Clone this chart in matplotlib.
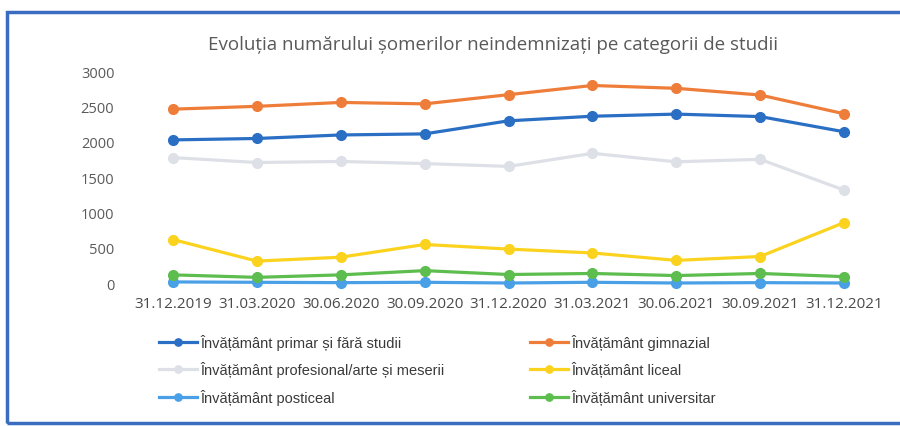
import matplotlib
matplotlib.use("Agg")
import matplotlib.pyplot as plt
from matplotlib.patches import Rectangle

dates = ["31.12.2019", "31.03.2020", "30.06.2020", "30.09.2020", "31.12.2020",
         "31.03.2021", "30.06.2021", "30.09.2021", "31.12.2021"]
primar = [2025, 2045, 2095, 2110, 2295, 2360, 2390, 2355, 2140]
gimnazial = [2460, 2500, 2555, 2535, 2665, 2795, 2755, 2660, 2395]
profesional = [1775, 1705, 1720, 1690, 1650, 1835, 1715, 1750, 1315]
liceal = [615, 310, 365, 545, 480, 425, 320, 375, 855]
posticeal = [15, 10, 5, 10, 0, 10, 0, 5, 0]
universitar = [115, 80, 115, 175, 120, 135, 105, 135, 90]
yticks = [0, 500, 1000, 1500, 2000, 2500, 3000]

series = [
    ("Învățământ primar și fără studii", primar, "#2a6fc4"),
    ("Învățământ profesional/arte și meserii", profesional, "#dde0e6"),
    ("Învățământ posticeal", posticeal, "#4aa0e6"),
    ("Învățământ gimnazial", gimnazial, "#ef7d3a"),
    ("Învățământ liceal", liceal, "#fbd31f"),
    ("Învățământ universitar", universitar, "#5dbd4e"),
]

fig = plt.figure(figsize=(9, 4.27), dpi=100)
fig.patch.set_facecolor("white")
ax = fig.add_axes([131/900, 143/427, (886-131)/900, (284-72)/427])
x = list(range(len(dates)))
handles = {}
for name, vals, col in series:
    h, = ax.plot(x, vals, color=col, lw=2.3, marker="o", ms=7,
                 markeredgecolor=col, label=name, clip_on=False, zorder=3)
    handles[name] = h

ax.set_xlim(-0.5, len(dates) - 0.5)
ax.set_ylim(0, 3000)
ax.set_yticks(yticks)
ax.set_yticklabels([str(v) for v in yticks])
ax.set_xticks(x)
ax.set_xticklabels(dates)
for s in ax.spines.values():
    s.set_visible(False)
ax.tick_params(length=0)
ax.tick_params(axis="y", pad=12, labelsize=10.5, labelcolor="#5a5a5a")
ax.tick_params(axis="x", pad=9, labelsize=11, labelcolor="#4a4a4a")
for t in ax.get_xticklabels() + ax.get_yticklabels():
    t.set_fontfamily("Open Sans")

fig.text(493/900, 1 - 45/427, "Evoluția numărului șomerilor neindemnizați pe categorii de studii",
         ha="center", va="center", fontsize=13.5, color="#595959", family="Open Sans")

leg = fig.legend([h for h in handles.values()], list(handles.keys()), ncol=2,
                 loc="upper left", bbox_to_anchor=(146/900, 1 - 322/427),
                 frameon=False, handlelength=2.6, handletextpad=0.2,
                 columnspacing=5.9, labelspacing=0.78, markerscale=0.75,
                 prop={"family": "Liberation Sans", "size": 10.5})
for t in leg.get_texts():
    t.set_color("#3a3a3a")

fig.patches.append(Rectangle((7/900, 3/427), 1.2, 411/427, transform=fig.transFigure,
                             fill=False, edgecolor="#3a6cc0", lw=2.5))

fig.savefig("out.png", dpi=100, facecolor="white")
